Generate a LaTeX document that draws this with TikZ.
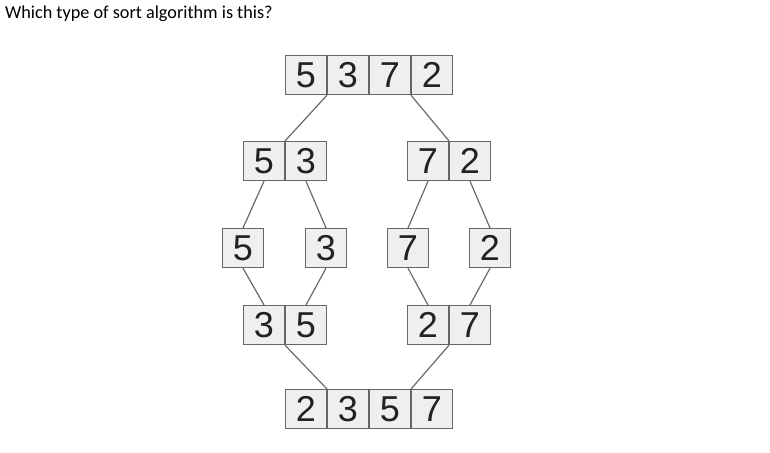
\documentclass[tikz,border=0pt]{standalone}
\usepackage{fontspec}
\newfontfamily\digitfont{Liberation Sans}
\newfontfamily\titlefont{Carlito}
\definecolor{cellfill}{HTML}{EFEFEF}
\definecolor{celldraw}{HTML}{666666}
\definecolor{linkcol}{HTML}{6A6A6A}
\definecolor{digitcol}{HTML}{222222}
\begin{document}
\begin{tikzpicture}[x=1pt,y=-1pt,
  cell/.style={draw=celldraw, fill=cellfill, line width=1.2pt, rectangle, inner sep=0pt,
    minimum width=40.8pt, minimum height=39pt, anchor=north west,
    font=\digitfont\fontsize{36}{36}\selectfont, text=digitcol},
  link/.style={draw=linkcol, line width=1.2pt}]
\useasboundingbox (0,0) rectangle (770,452);
\node[anchor=base west, inner sep=0pt, font=\titlefont\fontsize{18.2}{20}\selectfont] (title) at (5,19) {Which type of sort algorithm is this?};
% level 1
\node[cell] (t1) at (285,55) {5};
\node[cell] (t2) at (t1.north east) {3};
\node[cell] (t3) at (t2.north east) {7};
\node[cell] (t4) at (t3.north east) {2};
% level 2
\node[cell] (a1) at (243,141) {5};
\node[cell] (a2) at (a1.north east) {3};
\node[cell] (a3) at (407,141) {7};
\node[cell] (a4) at (a3.north east) {2};
% level 3
\node[cell] (b1) at (222,228) {5};
\node[cell] (b2) at (305,228) {3};
\node[cell] (b3) at (387,228) {7};
\node[cell] (b4) at (469,228) {2};
% level 4
\node[cell] (c1) at (243,305) {3};
\node[cell] (c2) at (c1.north east) {5};
\node[cell] (c3) at (407,305) {2};
\node[cell] (c4) at (c3.north east) {7};
% level 5
\node[cell] (d1) at (285,389) {2};
\node[cell] (d2) at (d1.north east) {3};
\node[cell] (d3) at (d2.north east) {5};
\node[cell] (d4) at (d3.north east) {7};
% links
\draw[link] (t1.south east) -- (a1.north east);
\draw[link] (t3.south east) -- (a3.north east);
\draw[link] (a1.south) -- (b1.north);
\draw[link] (a2.south) -- (b2.north);
\draw[link] (a3.south) -- (b3.north);
\draw[link] (a4.south) -- (b4.north);
\draw[link] (b1.south) -- (c1.north);
\draw[link] (b2.south) -- (c2.north);
\draw[link] (b3.south) -- (c3.north);
\draw[link] (b4.south) -- (c4.north);
\draw[link] (c1.south east) -- (d2.north west);
\draw[link] (c3.south east) -- (d4.north west);
\end{tikzpicture}
\end{document}
